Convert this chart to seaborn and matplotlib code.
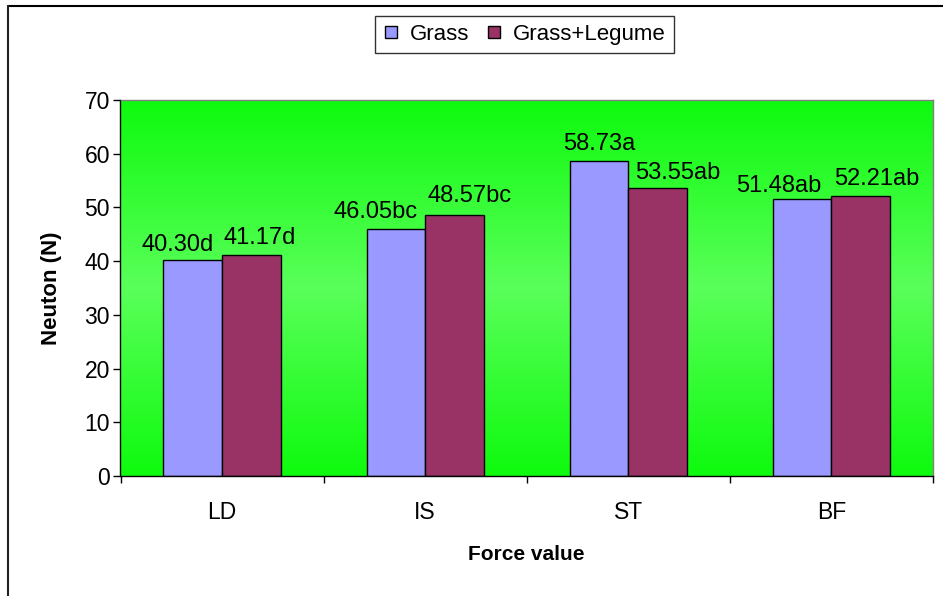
import numpy as np
import pandas as pd
import matplotlib
matplotlib.use("Agg")
import matplotlib.pyplot as plt
from matplotlib.lines import Line2D
import seaborn as sns

# Force values (N) for each treatment
categories = ["LD", "IS", "ST", "BF"]
grass = [40.30, 46.05, 58.73, 51.48]
grass_legume = [41.17, 48.57, 53.55, 52.21]
grass_letters = ["d", "bc", "a", "ab"]
grass_legume_letters = ["d", "bc", "ab", "ab"]
series_names = ["Grass", "Grass+Legume"]
y_ticks = [0, 10, 20, 30, 40, 50, 60, 70]

df = pd.DataFrame({
    "category": categories * 2,
    "value": grass + grass_legume,
    "series": [series_names[0]] * len(categories) + [series_names[1]] * len(categories),
    "letter": grass_letters + grass_legume_letters,
})

sns.set_theme(style="white")
plt.rcParams["font.family"] = ["Liberation Sans", "DejaVu Sans"]
plt.rcParams["text.color"] = "black"
plt.rcParams["axes.labelcolor"] = "black"
plt.rcParams["xtick.color"] = "black"
plt.rcParams["ytick.color"] = "black"

W, H = 943, 596
fig = plt.figure(figsize=(W / 100, H / 100), dpi=100)
fig.patch.set_facecolor("white")
ax = fig.add_axes([120.5 / W, 1 - 476 / H, (933 - 120.5) / W, (476 - 100) / H])

colors = ["#9999FF", "#993366"]
sns.barplot(data=df, x="category", y="value", hue="series", order=categories,
            hue_order=series_names, palette=colors, width=0.577, saturation=1,
            edgecolor="black", linewidth=1.0, legend=False, errorbar=None, ax=ax, zorder=2)

# green plot-area fill, lighter through the middle band
ys = np.linspace(0, 1, 256)
t = np.abs(ys - 0.5) * 2
c_mid = np.array([90, 255, 90]) / 255
c_edge = np.array([14, 250, 14]) / 255
grad = (c_mid[None, :] * (1 - t[:, None]) + c_edge[None, :] * t[:, None])
grad = np.repeat(grad[:, None, :], 2, axis=1)
ax.imshow(grad, extent=[-0.5, 3.5, 0, 70], aspect="auto", origin="lower",
          interpolation="bilinear", zorder=0)

ax.set_xlim(-0.5, 3.5)
ax.set_ylim(0, 70)
ax.set_yticks(y_ticks)
ax.set_yticklabels([str(v) for v in y_ticks])
ax.tick_params(axis="y", which="major", direction="out", length=5, width=1,
               color="black", labelcolor="black", pad=2.5, labelsize=16.5, left=True)

ax.set_xticks(range(len(categories)))
ax.set_xticklabels(categories)
ax.tick_params(axis="x", which="major", length=0, pad=18, labelsize=16.5, labelcolor="black")
ax.set_xticks(np.arange(-0.5, len(categories), 1.0), minor=True)
ax.tick_params(axis="x", which="minor", direction="out", length=5, width=1,
               color="black", bottom=True)

for side in ["left", "bottom"]:
    ax.spines[side].set_color("black")
    ax.spines[side].set_linewidth(1.0)
for side in ["top", "right"]:
    ax.spines[side].set_color("#808080")
    ax.spines[side].set_linewidth(1.0)
ax.grid(False)

ax.set_ylabel("Neuton (N)", fontsize=16, fontweight="bold", va="center", color="black")
ax.yaxis.set_label_coords(-0.085, 0.5)
ax.set_xlabel("Force value", fontsize=15, fontweight="bold", va="center", color="black")
ax.xaxis.set_label_coords(0.5, -0.21)

# value labels with significance letters, pushed apart where a pair would collide
nudges = [[-15, 8], [-20, 15], [0, 20], [-23, 16]]
rises = [[9, 11], [11, 13], [11, 9], [7, 11]]
bar_w = 0.577 / 2
for i, cat in enumerate(categories):
    for j, (vals, lets) in enumerate([(grass, grass_letters), (grass_legume, grass_legume_letters)]):
        x = i + (j - 0.5) * bar_w
        ax.annotate(f"{vals[i]:.2f}{lets[i]}", xy=(x, vals[i]),
                    xytext=(nudges[i][j] * 0.72, rises[i][j] * 0.72), textcoords="offset points",
                    ha="center", va="baseline", fontsize=17, color="black", zorder=5)

handles = [Line2D([0], [0], marker="s", linestyle="none", markersize=8,
                  markerfacecolor=c, markeredgecolor="black", markeredgewidth=1.0)
           for c in colors]
leg = fig.legend(handles, series_names, loc="center", bbox_to_anchor=(524.5 / W, 1 - 34.5 / H),
                 ncol=2, frameon=True, fontsize=16, handlelength=0.7, handletextpad=0.5,
                 columnspacing=0.8, borderpad=0.35, fancybox=False, borderaxespad=0)
leg.get_frame().set_edgecolor("black")
leg.get_frame().set_linewidth(1.0)
for txt in leg.get_texts():
    txt.set_color("black")

# chart frame (top and left edges)
fig.add_artist(Line2D([8 / W, 1.0], [1 - 6 / H, 1 - 6 / H], transform=fig.transFigure,
                      color="black", linewidth=1.5))
fig.add_artist(Line2D([8 / W, 8 / W], [0, 1 - 6 / H], transform=fig.transFigure,
                      color="#222222", linewidth=1.5))

fig.savefig("out.png", dpi=100, facecolor="white")
